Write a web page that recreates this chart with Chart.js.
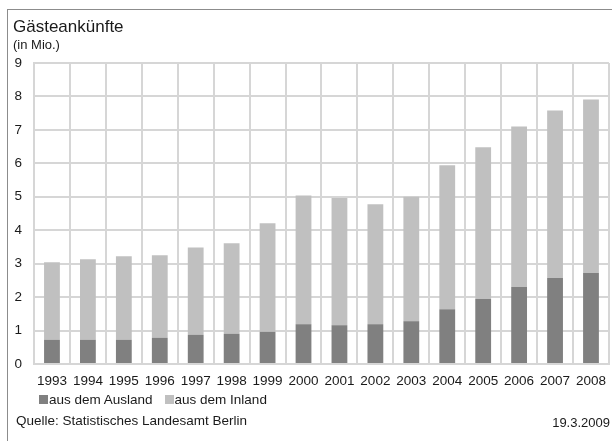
<!DOCTYPE html>
<html>
<head>
<meta charset="utf-8">
<script src="https://cdn.jsdelivr.net/npm/chart.js@4/dist/chart.umd.min.js"></script>
<style>
  html, body { margin: 0; padding: 0; background: #fff; width: 612px; height: 441px; overflow: hidden; }
  body { position: relative; font-family: "Liberation Sans", Arial, sans-serif; color: #1a1a1a; }
  #frame { position: absolute; left: 7px; top: 9px; width: 620px; height: 440px; border-top: 1px solid #8c8c8c; border-left: 1px solid #8c8c8c; }
  #wrap { position: absolute; left: 0; top: 0; width: 615px; height: 441px; }
  .txt { position: absolute; white-space: nowrap; line-height: 1; }
  #title { left: 13px; top: 18px; font-size: 17px; }
  #sub { left: 13px; top: 38px; font-size: 13px; }
  #legend { left: 39px; top: 393px; font-size: 13.5px; display: flex; align-items: center; }
  .box { display: inline-block; width: 9px; height: 9px; margin-right: 1px; }
  .item { display: inline-flex; align-items: center; margin-right: 12px; }
  #src { left: 16px; top: 414px; font-size: 13.5px; }
  #date { right: 2px; top: 416px; font-size: 13px; }
</style>
</head>
<body>
<div id="frame"></div>
<div id="wrap"><canvas id="c" width="615" height="441"></canvas></div>
<div class="txt" id="title">Gästeankünfte</div>
<div class="txt" id="sub">(in Mio.)</div>
<div class="txt" id="legend"></div>
<div class="txt" id="src">Quelle: Statistisches Landesamt Berlin</div>
<div class="txt" id="date">19.3.2009</div>
<script>
const years = ["1993","1994","1995","1996","1997","1998","1999","2000","2001","2002","2003","2004","2005","2006","2007","2008"];
const ausland = [0.72, 0.72, 0.72, 0.78, 0.87, 0.90, 0.96, 1.19, 1.16, 1.19, 1.28, 1.64, 1.94, 2.30, 2.57, 2.72];
const inland  = [2.32, 2.41, 2.50, 2.47, 2.61, 2.71, 3.25, 3.85, 3.80, 3.59, 3.72, 4.30, 4.54, 4.80, 5.01, 5.19];
const seriesNames = ["aus dem Ausland", "aus dem Inland"];
const seriesColors = ["#808080", "#c0c0c0"];
const yTicks = [0,1,2,3,4,5,6,7,8,9];

const legendEl = document.getElementById('legend');
seriesNames.forEach((n, i) => {
  const it = document.createElement('span');
  it.className = 'item';
  it.innerHTML = '<span class="box" style="background:' + seriesColors[i] + '"></span>' + n;
  legendEl.appendChild(it);
});

const gridColor = '#d6d6d6';
new Chart(document.getElementById('c'), {
  type: 'bar',
  data: {
    labels: years,
    datasets: [
      { label: seriesNames[0], data: ausland, backgroundColor: seriesColors[0], barPercentage: 0.44, categoryPercentage: 1 },
      { label: seriesNames[1], data: inland, backgroundColor: seriesColors[1], barPercentage: 0.44, categoryPercentage: 1 }
    ]
  },
  options: {
    responsive: false,
    devicePixelRatio: 1,
    animation: false,
    layout: { padding: { left: 0, top: 63, right: 0, bottom: 47 } },
    plugins: { legend: { display: false }, tooltip: { enabled: false }, title: { display: false } },
    scales: {
      x: {
        stacked: true,
        grid: { color: gridColor, lineWidth: 2, drawTicks: false, offset: true },
        border: { color: gridColor, width: 2 },
        ticks: { color: '#1a1a1a', font: { family: '"Liberation Sans", Arial, sans-serif', size: 13.5 }, padding: 9, maxRotation: 0, autoSkip: false },
        afterFit: s => { s.height = 30; }
      },
      y: {
        stacked: true,
        min: 0, max: 9,
        afterBuildTicks: s => { s.ticks = yTicks.map(v => ({ value: v })); },
        grid: { color: gridColor, lineWidth: 2, drawTicks: false },
        border: { color: gridColor, width: 2 },
        ticks: { color: '#1a1a1a', font: { family: '"Liberation Sans", Arial, sans-serif', size: 13.5 }, padding: 12 },
        afterFit: s => { s.width = 34; }
      }
    }
  }
});
</script>
</body>
</html>
